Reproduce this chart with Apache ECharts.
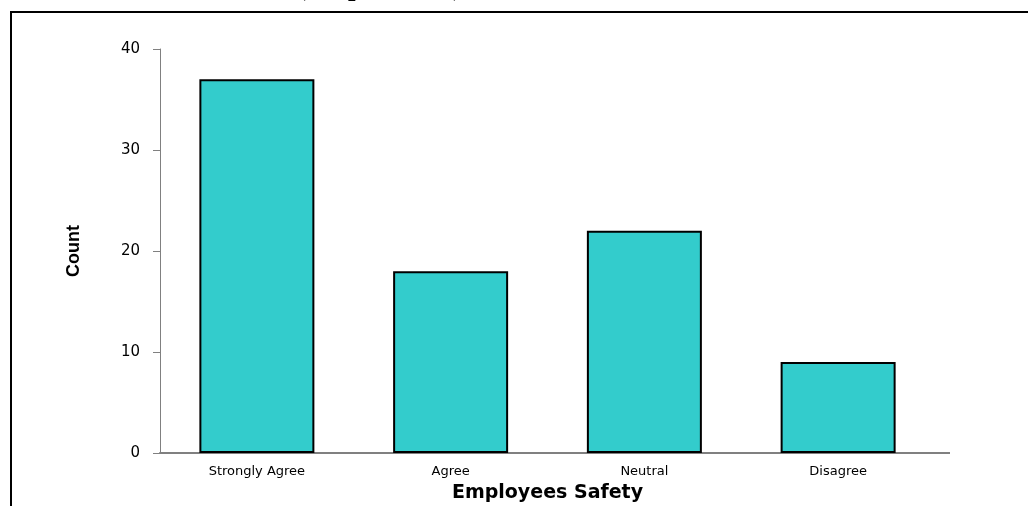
<!DOCTYPE html>
<html>
<head>
<meta charset="utf-8">
<script src="https://cdn.jsdelivr.net/npm/echarts@6/dist/echarts.min.js"></script>
<style>
html,body{margin:0;padding:0;background:#fff;}
#chart{width:1028px;height:506px;}
</style>
</head>
<body>
<div id="chart"></div>
<script>
var categories = ['Strongly Agree', 'Agree', 'Neutral', 'Disagree'];
var counts = [37, 18, 22, 9];
var yTicks = { min: 0, max: 40, interval: 10 };
var topFragment = '(Respondents)';
var xTitle = 'Employees Safety';
var yTitle = 'Count';

var chart = echarts.init(document.getElementById('chart'), null, { renderer: 'canvas' });
chart.setOption({
  animation: false,
  backgroundColor: '#ffffff',
  grid: { left: 160, top: 49, width: 775, height: 404, containLabel: false, outerBoundsMode: 'none' },
  xAxis: {
    type: 'category',
    data: categories,
    axisLine: { show: true, lineStyle: { color: '#808080', width: 2 } },
    axisTick: { show: false },
    axisLabel: { color: '#000', fontFamily: 'DejaVu Sans', fontSize: 13, margin: 12 },
    name: xTitle,
    nameLocation: 'middle',
    nameGap: 31,
    nameTextStyle: { color: '#000', fontFamily: 'DejaVu Sans', fontWeight: 'bold', fontSize: 19 }
  },
  yAxis: {
    type: 'value',
    min: yTicks.min,
    max: yTicks.max,
    interval: yTicks.interval,
    axisLine: { show: true, lineStyle: { color: '#808080', width: 1 } },
    axisTick: { show: true, length: 7, lineStyle: { color: '#808080', width: 1 } },
    axisLabel: { color: '#000', fontFamily: 'DejaVu Sans', fontSize: 15, margin: 20 },
    splitLine: { show: false },
    name: yTitle,
    nameLocation: 'middle',
    nameGap: 77,
    nameTextStyle: { color: '#000', fontFamily: 'Liberation Sans', fontWeight: 'bold', fontSize: 18 }
  },
  series: [{
    type: 'bar',
    data: counts,
    barWidth: 115,
    itemStyle: { color: '#33CCCC', borderColor: '#000000', borderWidth: 2 }
  }],
  graphic: [
    {
      type: 'rect',
      shape: { x: 11, y: 12, width: 1040, height: 520 },
      style: { fill: 'none', stroke: '#000', lineWidth: 2 },
      silent: true
    },
    {
      type: 'line',
      shape: { x1: 935, y1: 453, x2: 950, y2: 453 },
      style: { stroke: '#808080', lineWidth: 2 },
      silent: true
    },
    {
      type: 'text',
      x: 297,
      y: -25,
      style: { text: topFragment, font: 'bold 27px "Liberation Serif"', fill: '#000' },
      silent: true
    }
  ]
});
</script>
</body>
</html>
